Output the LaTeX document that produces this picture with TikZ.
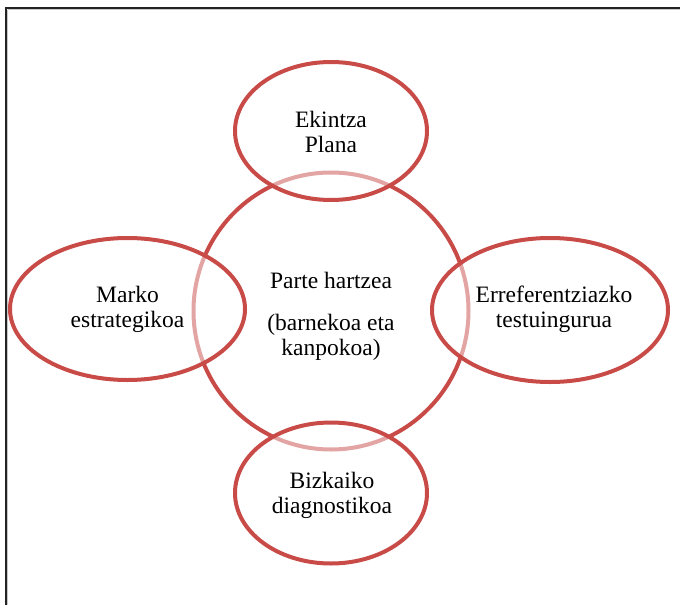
\documentclass[tikz,border=0pt]{standalone}
\usepackage{fontspec}
\setmainfont{Liberation Serif}
\usetikzlibrary{shapes.geometric}

\definecolor{ringred}{RGB}{200,75,72}
\definecolor{framedark}{RGB}{35,35,35}
\definecolor{frameshade}{RGB}{200,200,200}

\tikzset{
  ring/.style={ellipse, draw=ringred, line width=4pt, inner sep=0pt},
  petal/.style={ring, fill=white, fill opacity=0.5, draw opacity=1},
  % multi-line nodes: the base anchor sits on the last line
  caption/.style={anchor=base, align=center, inner sep=0pt,
    font=\fontsize{23.5}{25}\selectfont, text=black}
}

\begin{document}
\begin{tikzpicture}[x=1pt, y=-1pt]
  \useasboundingbox (0,0) rectangle (680,605);

  % page frame (top and left edges)
  \coordinate (ftl) at (6,8);
  \coordinate (ftr) at (680,8);
  \coordinate (fbl) at (6,605);
  \draw[frameshade, line width=1pt] (7.5,9.5) -- (680,9.5);
  \draw[frameshade, line width=1pt] (7.5,9.5) -- (7.5,605);
  \draw[framedark, line width=1.1pt] (ftr) -- (ftl) -- (fbl);

  % central circle
  \node[ring, fill=white, minimum width=275pt, minimum height=277pt] (core) at (331,311) {};

  % surrounding ellipses, half-transparent so the circle shows through
  \node[petal, minimum width=192pt, minimum height=138pt] (top)    at (331,131) {};
  \node[petal, minimum width=192pt, minimum height=141pt] (bottom) at (331,493) {};
  \node[petal, minimum width=235pt, minimum height=142pt] (left)   at (127.5,309) {};
  \node[petal, minimum width=236pt, minimum height=144pt] (right)  at (550,310) {};

  % labels
  \node[caption] (ttop)    at (331,152)   {Ekintza\\Plana};
  \node[caption] (tcore)   at (331,355)   {Parte hartzea\\[17pt](barnekoa eta\\kanpokoa)};
  \node[caption] (tleft)   at (127.5,327) {Marko\\estrategikoa};
  \node[caption] (tright)  at (554,327)   {Erreferentziazko\\testuingurua};
  \node[caption] (tbottom) at (332,513)   {Bizkaiko\\diagnostikoa};
\end{tikzpicture}
\end{document}
